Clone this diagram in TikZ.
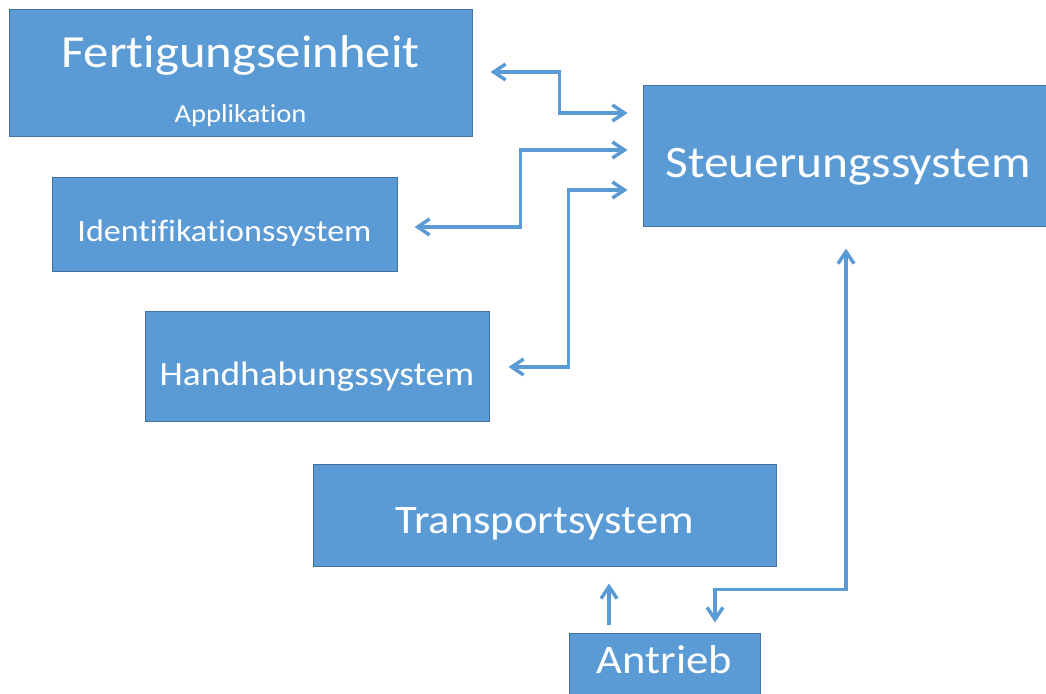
\documentclass[tikz,border=0pt]{standalone}
\usepackage{fontspec}
\setmainfont{Carlito}[Ligatures=NoCommon,FakeStretch=1.1]
\usetikzlibrary{arrows.meta,calc}
\definecolor{boxfill}{HTML}{5B9BD5}
\definecolor{boxline}{HTML}{41719C}
\newcommand\fs[1]{\fontsize{#1pt}{#1pt}\selectfont}
\begin{document}
\begin{tikzpicture}[x=1pt,y=-1pt,
  block/.style={draw=boxline,line width=1pt,fill=boxfill,text=white,
    inner sep=0pt,align=center},
  % baseline placed #1 pt below the block centre
  drop/.style={text height={2*(#1)*1pt},text depth=0pt},
  tipb/.tip={Straight Barb[length=12pt,width=16pt]},
  conn/.style={draw=boxfill,line width=3.5pt},
  both/.style={conn,tipb-tipb},
  fwd/.style={conn,-tipb}]
\useasboundingbox (0,0) rectangle (1046,693);

% system blocks
\node[block,minimum width=463pt,minimum height=126pt,
  text height=0pt,text depth=10.6pt,font=\fs{46},
  label={[text=white,font=\fs{26},anchor=base,yshift=-42.7pt]center:Applikation}]
  (fe) at (240.5,73) {Fertigungseinheit};
\node[block,minimum width=410pt,minimum height=141pt,drop=21.5,font=\fs{45}]
  (st) at (848,155.5) {Steuerungssystem};
\node[block,minimum width=345pt,minimum height=94pt,drop=17.7,font=\fs{31}]
  (id) at (224.5,224) {Identifikationssystem};
\node[block,minimum width=344pt,minimum height=110pt,drop=19,font=\fs{34}]
  (hh) at (317,366) {Handhabungssystem};
\node[block,minimum width=463pt,minimum height=102pt,drop=18.3,font=\fs{40.5}]
  (tr) at (544.5,515) {Transportsystem};
\node[block,minimum width=191pt,minimum height=67pt,drop=6.8,font=\fs{40.5}]
  (an) at (664.5,666.5) {Antrieb};

% connections to the controller
\draw[both] ($(fe.east)+(18,-1)$) -- ++(69,0) |- ($(st.west)+(-15,-42.5)$);
\draw[both] ($(id.east)+(17,3)$) -- ++(106,0) |- ($(st.west)+(-15,-5.5)$);
\draw[both] ($(hh.east)+(19,1)$) -- ++(60,0) |- ($(st.west)+(-15,34.5)$);
\draw[both] ($(st.south)+(-2,22)$) |- ($(an.north)+(50.5,-43)$)
  -- ($(an.north)+(50.5,-10)$);
% drive to transport
\draw[fwd] ($(an.north)+(-55.5,-8)$) -- ($(tr.south)+(64.5,17)$);
\end{tikzpicture}
\end{document}
